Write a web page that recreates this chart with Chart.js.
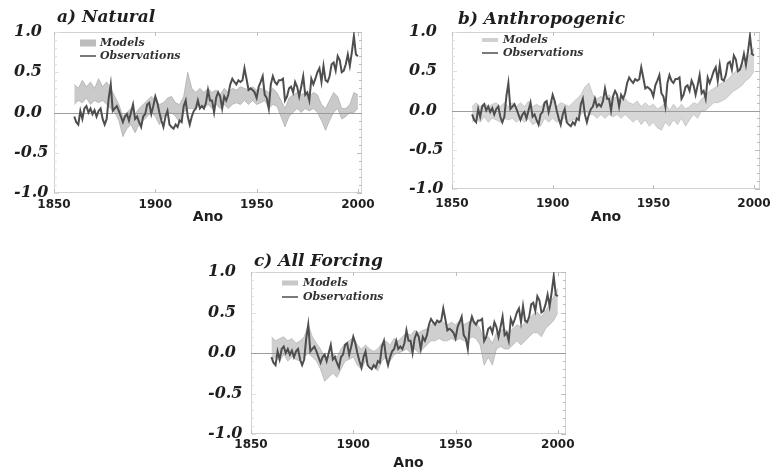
<!DOCTYPE html>
<html>
<head>
<meta charset="utf-8">
<script src="https://cdn.jsdelivr.net/npm/chart.js@4.4.0/dist/chart.umd.min.js"></script>
<style>
  html, body { margin: 0; padding: 0; background: #fff; width: 779px; height: 472px; overflow: hidden; }
  .panel { position: absolute; }
  canvas { display: block; }
</style>
</head>
<body>
<div class="panel" style="left:0px;top:0px"><canvas id="natural" width="390" height="232"></canvas></div>
<div class="panel" style="left:390px;top:0px"><canvas id="anthro" width="389" height="232"></canvas></div>
<div class="panel" style="left:190px;top:240px"><canvas id="allforcing" width="400" height="232"></canvas></div>
<script>
// Axis tick labels
const xTickYears = [1850, 1900, 1950, 2000];
const yTickValues = [-1.0, -0.5, 0.0, 0.5, 1.0];
const xAxisLabel = 'Ano';
const legendLabels = ['Models', 'Observations'];

// Observed annual anomalies, 1860-2000
const obsStartYear = 1860;
const observations = [
  -0.05, -0.12, -0.15, 0.02, -0.08, 0.05, 0.08, 0.00, 0.05, -0.02,
  0.03, -0.05, 0.02, 0.05, -0.08, -0.15, -0.08, 0.18, 0.35, 0.02,
  0.05, 0.08, 0.02, -0.05, -0.12, -0.05, -0.02, -0.10, 0.00, 0.10,
  -0.08, -0.05, -0.12, -0.18, -0.05, -0.02, 0.10, 0.12, -0.02, 0.08,
  0.20, 0.12, 0.00, -0.10, -0.18, -0.05, 0.02, -0.15, -0.18, -0.20,
  -0.15, -0.18, -0.10, -0.12, 0.08, 0.15, -0.05, -0.15, -0.05, 0.02,
  0.05, 0.15, 0.05, 0.08, 0.05, 0.12, 0.28, 0.15, 0.15, 0.00,
  0.18, 0.25, 0.20, 0.05, 0.20, 0.15, 0.22, 0.35, 0.42, 0.38,
  0.35, 0.40, 0.38, 0.40, 0.55, 0.42, 0.28, 0.30, 0.28, 0.25,
  0.18, 0.32, 0.38, 0.45, 0.22, 0.18, 0.05, 0.35, 0.45, 0.38,
  0.35, 0.40, 0.40, 0.42, 0.15, 0.20, 0.30, 0.32, 0.25, 0.38,
  0.32, 0.20, 0.32, 0.45, 0.22, 0.25, 0.15, 0.42, 0.35, 0.42,
  0.50, 0.55, 0.38, 0.58, 0.40, 0.38, 0.45, 0.60, 0.62, 0.52,
  0.70, 0.65, 0.50, 0.52, 0.60, 0.72, 0.58, 0.75, 0.95, 0.72,
  0.70
];

// Model ensemble range, every second year from 1860 to 2000
const modelStartYear = 1860;
const modelStep = 2;

const naturalLow = [
  0.10, 0.15, 0.12, 0.18, 0.10, 0.15, 0.12, 0.15, 0.10, 0.05,
  0.00, -0.10, -0.30, -0.20, -0.15, -0.25, -0.15, -0.10, -0.05, 0.00,
  -0.05, -0.15, -0.05, 0.00, 0.00, -0.05, -0.12, 0.00, 0.05, 0.05,
  0.05, 0.10, 0.05, 0.10, 0.05, 0.10, 0.05, 0.10, 0.05, 0.10,
  0.12, 0.10, 0.15, 0.10, 0.15, 0.10, 0.12, 0.15, 0.05, 0.10,
  0.08, -0.05, -0.18, -0.05, 0.00, 0.05, 0.00, 0.05, 0.02, 0.05,
  0.00, -0.10, -0.22, -0.10, 0.00, 0.05, -0.08, -0.05, 0.00, 0.00,
  0.05
];
const naturalHigh = [
  0.35, 0.30, 0.40, 0.32, 0.38, 0.30, 0.42, 0.32, 0.38, 0.30,
  0.20, 0.10, -0.05, 0.00, 0.05, -0.02, 0.05, 0.10, 0.15, 0.20,
  0.15, 0.10, 0.12, 0.18, 0.20, 0.12, 0.10, 0.20, 0.50, 0.30,
  0.25, 0.30, 0.25, 0.30, 0.25, 0.28, 0.22, 0.30, 0.25, 0.30,
  0.28, 0.32, 0.30, 0.28, 0.32, 0.28, 0.30, 0.28, 0.25, 0.30,
  0.25, 0.15, 0.05, 0.18, 0.22, 0.25, 0.22, 0.25, 0.20, 0.25,
  0.22, 0.10, 0.05, 0.15, 0.25, 0.20, 0.05, 0.05, 0.10, 0.25,
  0.22
];

const anthroLow = [
  -0.15, -0.10, -0.15, -0.08, -0.15, -0.10, -0.12, -0.15, -0.10, -0.12,
  -0.10, -0.15, -0.10, -0.15, -0.10, -0.18, -0.15, -0.20, -0.10, -0.15,
  -0.10, -0.15, -0.12, -0.10, -0.15, -0.12, -0.10, -0.05, 0.00, -0.05,
  -0.05, -0.10, -0.05, -0.10, -0.05, -0.08, -0.05, -0.10, -0.05, -0.10,
  -0.15, -0.10, -0.18, -0.12, -0.20, -0.15, -0.22, -0.25, -0.15, -0.20,
  -0.12, -0.18, -0.10, -0.20, -0.12, -0.05, -0.10, 0.00, 0.00, 0.05,
  0.10, 0.10, 0.12, 0.15, 0.20, 0.25, 0.28, 0.32, 0.38, 0.42,
  0.50
];
const anthroHigh = [
  0.05, 0.10, 0.05, 0.10, 0.05, 0.08, 0.10, 0.05, 0.10, 0.05,
  0.10, 0.05, 0.10, 0.05, 0.12, 0.05, 0.08, 0.05, 0.10, 0.05,
  0.12, 0.05, 0.10, 0.08, 0.05, 0.10, 0.15, 0.20, 0.30, 0.35,
  0.20, 0.15, 0.18, 0.15, 0.20, 0.15, 0.18, 0.12, 0.15, 0.10,
  0.08, 0.12, 0.05, 0.10, 0.05, 0.08, 0.02, 0.05, 0.10, 0.00,
  0.08, 0.02, 0.08, 0.02, 0.05, 0.10, 0.08, 0.15, 0.20, 0.25,
  0.28, 0.32, 0.35, 0.38, 0.42, 0.48, 0.52, 0.55, 0.62, 0.72,
  0.80
];

const allLow = [
  -0.10, -0.05, -0.10, -0.02, -0.10, -0.05, -0.08, -0.10, -0.05, 0.00,
  -0.05, -0.10, -0.20, -0.35, -0.30, -0.25, -0.30, -0.20, -0.10, -0.08,
  -0.05, -0.15, -0.20, -0.10, -0.15, -0.18, -0.22, -0.10, -0.05, -0.10,
  -0.02, 0.00, 0.02, 0.05, 0.00, 0.05, 0.00, 0.05, 0.10, 0.15,
  0.15, 0.18, 0.15, 0.15, 0.18, 0.15, 0.18, 0.15, 0.15, 0.20,
  0.18, 0.10, -0.15, -0.05, -0.15, 0.05, 0.08, 0.05, 0.05, 0.10,
  0.15, 0.10, 0.15, 0.20, 0.25, 0.25, 0.20, 0.30, 0.35, 0.40,
  0.50
];
const allHigh = [
  0.20, 0.15, 0.18, 0.20, 0.15, 0.18, 0.12, 0.15, 0.20, 0.35,
  0.20, 0.12, 0.05, -0.05, -0.05, 0.00, -0.05, 0.05, 0.12, 0.15,
  0.20, 0.10, 0.05, 0.10, 0.05, 0.02, 0.05, 0.12, 0.15, 0.10,
  0.18, 0.15, 0.20, 0.25, 0.22, 0.28, 0.25, 0.28, 0.30, 0.35,
  0.38, 0.40, 0.38, 0.35, 0.38, 0.35, 0.40, 0.35, 0.38, 0.40,
  0.38, 0.30, 0.15, 0.20, 0.12, 0.25, 0.28, 0.30, 0.25, 0.30,
  0.35, 0.32, 0.38, 0.42, 0.48, 0.50, 0.45, 0.52, 0.60, 0.70,
  0.80
];

const toPoints = (values, start, step) => values.map((v, i) => ({ x: start + i * step, y: v }));

// Frame, edge ticks, zero line, panel title and in-plot legend
const panelDecor = {
  id: 'panelDecor',
  beforeDatasetsDraw(chart, args, o) {
    const { ctx, chartArea: a, scales: { x, y } } = chart;
    ctx.save();
    ctx.lineWidth = 1;
    // frame
    ctx.strokeStyle = '#d2d2d2';
    ctx.strokeRect(Math.round(a.left) + 0.5, Math.round(a.top) + 0.5,
                   Math.round(a.width) - 1, Math.round(a.height) - 1);
    // small ticks along the left and right edges
    for (let k = -10; k <= 10; k++) {
      const py = Math.round(y.getPixelForValue(k / 10)) + 0.5;
      const len = (k % 5 === 0) ? 5 : 3;
      ctx.strokeStyle = '#bdbdbd';
      ctx.beginPath();
      ctx.moveTo(a.right - len, py); ctx.lineTo(a.right, py);
      ctx.stroke();
      ctx.strokeStyle = '#e0e0e0';
      ctx.beginPath();
      ctx.moveTo(a.left, py); ctx.lineTo(a.left + len, py);
      ctx.stroke();
    }
    // ticks on the top and bottom edges at the labelled years
    ctx.strokeStyle = '#bdbdbd';
    xTickYears.forEach(v => {
      const px = Math.round(x.getPixelForValue(v)) + 0.5;
      ctx.beginPath();
      ctx.moveTo(px, a.top); ctx.lineTo(px, a.top + 4);
      ctx.moveTo(px, a.bottom); ctx.lineTo(px, a.bottom - 4);
      ctx.stroke();
    });
    // zero reference line
    const zy = Math.round(y.getPixelForValue(0)) + 0.5;
    ctx.strokeStyle = '#9c9c9c';
    ctx.beginPath();
    ctx.moveTo(a.left, zy); ctx.lineTo(a.right, zy);
    ctx.stroke();
    ctx.restore();
  },
  afterDraw(chart, args, o) {
    const { ctx, chartArea: a } = chart;
    ctx.save();
    // panel title
    ctx.fillStyle = '#1e1e1e';
    ctx.font = 'italic bold 17px "DejaVu Serif"';
    ctx.textBaseline = 'alphabetic';
    ctx.textAlign = 'left';
    ctx.fillText(o.title, a.left + o.titleDx, o.titleY);
    // legend
    const sx = a.left + o.swatchDx, tx = a.left + o.textDx;
    const y1 = a.top + o.row1, y2 = a.top + o.row2;
    ctx.fillStyle = o.modelSwatch;
    ctx.fillRect(sx, y1 - o.modelSwatchH / 2, 16, o.modelSwatchH);
    ctx.fillStyle = '#7a7a7a';
    ctx.fillRect(sx, y2 - 1, 16, 2);
    ctx.fillStyle = '#333';
    ctx.font = 'italic bold 11px "DejaVu Serif"';
    ctx.textBaseline = 'middle';
    ctx.fillText(legendLabels[0], tx, y1);
    ctx.fillText(legendLabels[1], tx, y2);
    ctx.restore();
  }
};

function makePanel(canvasId, p) {
  return new Chart(document.getElementById(canvasId), {
    type: 'line',
    data: {
      datasets: [
        {
          label: legendLabels[1],
          data: toPoints(observations, obsStartYear, 1),
          borderColor: '#4e4e4e',
          borderWidth: 2,
          pointRadius: 0,
          tension: 0,
          fill: false
        },
        {
          label: legendLabels[0] + ' (low)',
          data: toPoints(p.low, modelStartYear, modelStep),
          borderColor: p.bandEdge,
          borderWidth: 1,
          pointRadius: 0,
          tension: 0,
          fill: false
        },
        {
          label: legendLabels[0],
          data: toPoints(p.high, modelStartYear, modelStep),
          borderColor: p.bandEdge,
          backgroundColor: p.bandFill,
          borderWidth: 1,
          pointRadius: 0,
          tension: 0,
          fill: '-1'
        }
      ]
    },
    options: {
      responsive: false,
      animation: false,
      devicePixelRatio: 1,
      layout: { padding: { left: p.padLeft, right: p.padRight, top: p.padTop, bottom: 0 } },
      plugins: {
        legend: { display: false },
        tooltip: { enabled: false },
        panelDecor: p.decor
      },
      scales: {
        x: {
          type: 'linear',
          min: 1850,
          max: p.xMax,
          afterBuildTicks: s => { s.ticks = xTickYears.map(v => ({ value: v })); },
          afterFit: s => { s.height = p.xAxisH; },
          grid: { display: false, drawTicks: false },
          border: { display: false },
          ticks: {
            autoSkip: false,
            maxRotation: 0,
            padding: p.xTickPad,
            color: '#1e1e1e',
            font: { family: 'DejaVu Sans', weight: 'bold', size: 12 },
            callback: v => String(v)
          },
          title: {
            display: true,
            text: xAxisLabel,
            color: '#1e1e1e',
            font: { family: 'DejaVu Sans', weight: 'bold', size: 14 },
            padding: { top: 0, bottom: p.titlePadBottom }
          }
        },
        y: {
          min: -1,
          max: 1,
          afterBuildTicks: s => { s.ticks = yTickValues.map(v => ({ value: v })); },
          afterFit: s => { s.width = p.yAxisW; },
          grid: { display: false, drawTicks: false },
          border: { display: false },
          ticks: {
            crossAlign: 'far',
            color: '#1e1e1e',
            font: { family: 'DejaVu Serif', style: 'italic', weight: 'bold', size: 16 },
            callback: v => Number(v).toFixed(1)
          }
        }
      }
    },
    plugins: [panelDecor]
  });
}

makePanel('natural', {
  low: naturalLow, high: naturalHigh,
  bandFill: 'rgba(150,150,150,0.5)', bandEdge: 'rgba(150,150,150,0.5)',
  padLeft: 14, yAxisW: 40, padRight: 28, padTop: 32, xAxisH: 39,
  xMax: 2002, xTickPad: 5, titlePadBottom: 6,
  decor: { title: 'a) Natural', titleDx: 3, titleY: 22,
           swatchDx: 26, textDx: 46, row1: 11, row2: 24,
           modelSwatch: '#bcbcbc', modelSwatchH: 7 }
});

makePanel('anthro', {
  low: anthroLow, high: anthroHigh,
  bandFill: 'rgba(160,160,160,0.42)', bandEdge: 'rgba(160,160,160,0.42)',
  padLeft: 19, yAxisW: 43, padRight: 16, padTop: 32, xAxisH: 43,
  xMax: 2003, xTickPad: 8, titlePadBottom: 6,
  decor: { title: 'b) Anthropogenic', titleDx: 6, titleY: 24,
           swatchDx: 30, textDx: 51, row1: 8, row2: 21,
           modelSwatch: '#d0d0d0', modelSwatchH: 4 }
});

makePanel('allforcing', {
  low: allLow, high: allHigh,
  bandFill: 'rgba(155,155,155,0.48)', bandEdge: 'rgba(155,155,155,0.48)',
  padLeft: 18, yAxisW: 43, padRight: 24, padTop: 32, xAxisH: 38,
  xMax: 2004, xTickPad: 4, titlePadBottom: 0,
  decor: { title: 'c) All Forcing', titleDx: 3, titleY: 26,
           swatchDx: 31, textDx: 52, row1: 11, row2: 25,
           modelSwatch: '#c8c8c8', modelSwatchH: 5 }
});
</script>
</body>
</html>
